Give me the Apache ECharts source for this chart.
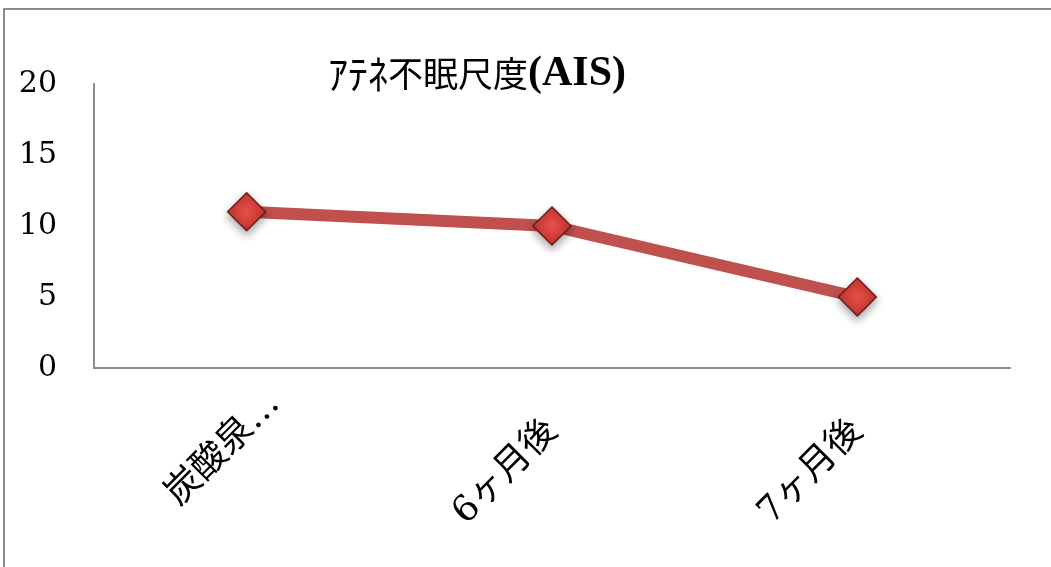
<!DOCTYPE html>
<html>
<head>
<meta charset="utf-8">
<script src="https://cdn.jsdelivr.net/npm/echarts@6/dist/echarts.min.js"></script>
<style>
html,body{margin:0;padding:0;background:#fff;}
#chart{width:1051px;height:567px;}
</style>
</head>
<body>
<div id="chart"></div>
<script>
var categories = ['炭酸泉…', '6ヶ月後', '7ヶ月後'];
var aisValues = [11, 10, 5];
var yTicks = [0, 5, 10, 15, 20];

var serif = '"DejaVu Serif", "Liberation Serif", "Noto Sans CJK JP", serif';
var chart = echarts.init(document.getElementById('chart'));
chart.setOption({
  backgroundColor: '#ffffff',
  animation: false,
  graphic: [{
    type: 'rect',
    shape: { x: 4, y: 9, width: 1200, height: 700 },
    style: { fill: 'none', stroke: '#8c8c8c', lineWidth: 2 },
    silent: true
  }],
  title: {
    text: '{k|ｱﾃﾈ}{n|不眠尺度}{b|(AIS)}',
    left: 472,
    textAlign: 'center',
    top: 48,
    textStyle: {
      rich: {
        k: { fontFamily: '"Noto Sans CJK JP", serif', fontSize: 40, fontWeight: 'normal', color: '#000' },
        n: { fontFamily: '"Noto Sans CJK JP", serif', fontSize: 35, fontWeight: 'normal', color: '#000' },
        b: { fontFamily: '"Liberation Serif", serif', fontSize: 42, fontWeight: 'bold', color: '#000' }
      }
    }
  },
  grid: { left: 94, right: 41, top: 84, bottom: 199 },
  xAxis: {
    type: 'category',
    data: categories.map(function (c, i) {
      return i === 0 ? { value: c, textStyle: { align: 'center', padding: [0, 66, 0, 0] } } : c;
    }),
    boundaryGap: true,
    axisLine: { lineStyle: { color: '#8c8c8c', width: 2 } },
    axisTick: { show: false },
    axisLabel: {
      rotate: 45,
      margin: 58,
      fontSize: 36,
      fontFamily: serif,
      color: '#000',
      interval: 0
    }
  },
  yAxis: {
    type: 'value',
    min: yTicks[0],
    max: yTicks[yTicks.length - 1],
    interval: yTicks[1] - yTicks[0],
    axisLine: { show: true, lineStyle: { color: '#8c8c8c', width: 2 } },
    axisTick: { show: false },
    splitLine: { show: false },
    axisLabel: {
      margin: 37,
      fontSize: 30,
      fontFamily: serif,
      color: '#000'
    }
  },
  series: [{
    type: 'line',
    data: aisValues,
    lineStyle: { color: '#c0504d', width: 12 },
    symbol: 'diamond',
    symbolSize: [38, 38],
    itemStyle: {
      color: {
        type: 'radial', x: 0.5, y: 0.45, r: 0.6,
        colorStops: [
          { offset: 0, color: '#e8504a' },
          { offset: 0.7, color: '#cf3a35' },
          { offset: 1, color: '#9e2420' }
        ]
      },
      borderColor: '#6e1a18',
      borderWidth: 1.5,
      shadowBlur: 8,
      shadowColor: 'rgba(0,0,0,0.35)',
      shadowOffsetY: 4
    },
    z: 3
  }]
});
</script>
</body>
</html>
